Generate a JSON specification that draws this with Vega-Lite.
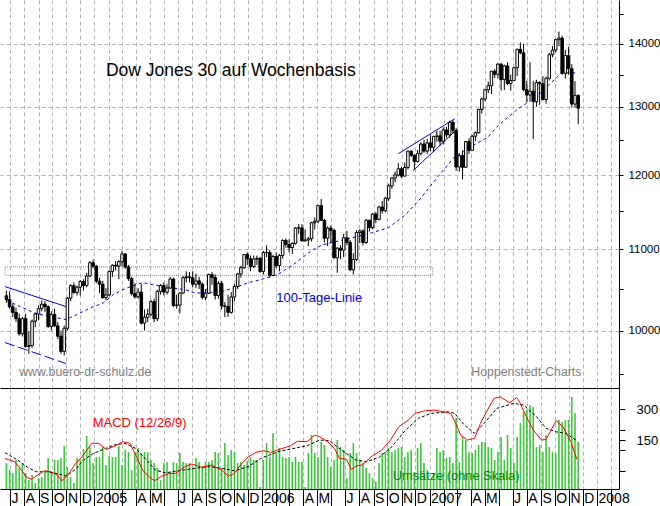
{
  "$schema": "https://vega.github.io/schema/vega-lite/v6.json",
  "padding": 0,
  "spacing": 0,
  "bounds": "flush",
  "config": {"view": {"stroke": null}, "font": "Liberation Sans"},
  "datasets": {
    "weeks": [
      {"date":"2004-06-23","open":10416,"high":10480,"low":10330,"close":10371,"vol":26},
      {"date":"2004-06-30","open":10371,"high":10470,"low":10260,"close":10282,"vol":19},
      {"date":"2004-07-07","open":10282,"high":10320,"low":10160,"close":10214,"vol":16},
      {"date":"2004-07-14","open":10214,"high":10270,"low":10100,"close":10140,"vol":29},
      {"date":"2004-07-21","open":10140,"high":10200,"low":9940,"close":9962,"vol":21},
      {"date":"2004-07-28","open":9962,"high":10160,"low":9930,"close":10140,"vol":26},
      {"date":"2004-08-04","open":10140,"high":10200,"low":9800,"close":9815,"vol":16},
      {"date":"2004-08-11","open":9815,"high":9990,"low":9730,"close":9825,"vol":9},
      {"date":"2004-08-18","open":9825,"high":10130,"low":9800,"close":10110,"vol":14},
      {"date":"2004-08-25","open":10110,"high":10210,"low":10040,"close":10195,"vol":6},
      {"date":"2004-09-01","open":10195,"high":10300,"low":10120,"close":10260,"vol":11},
      {"date":"2004-09-08","open":10260,"high":10360,"low":10230,"close":10314,"vol":12},
      {"date":"2004-09-15","open":10314,"high":10350,"low":10220,"close":10284,"vol":17},
      {"date":"2004-09-22","open":10284,"high":10300,"low":10030,"close":10047,"vol":31},
      {"date":"2004-09-29","open":10047,"high":10230,"low":10000,"close":10192,"vol":17},
      {"date":"2004-10-06","open":10192,"high":10260,"low":10040,"close":10055,"vol":29},
      {"date":"2004-10-13","open":10055,"high":10100,"low":9900,"close":9933,"vol":29},
      {"date":"2004-10-20","open":9933,"high":10000,"low":9730,"close":9758,"vol":31},
      {"date":"2004-10-27","open":9758,"high":10060,"low":9710,"close":10027,"vol":43},
      {"date":"2004-11-03","open":10027,"high":10400,"low":10000,"close":10387,"vol":22},
      {"date":"2004-11-10","open":10387,"high":10560,"low":10350,"close":10540,"vol":12},
      {"date":"2004-11-17","open":10540,"high":10580,"low":10440,"close":10456,"vol":6},
      {"date":"2004-11-24","open":10456,"high":10540,"low":10420,"close":10522,"vol":31},
      {"date":"2004-12-01","open":10522,"high":10610,"low":10420,"close":10592,"vol":29},
      {"date":"2004-12-08","open":10592,"high":10620,"low":10480,"close":10543,"vol":40},
      {"date":"2004-12-15","open":10543,"high":10700,"low":10520,"close":10661,"vol":53},
      {"date":"2004-12-22","open":10661,"high":10850,"low":10650,"close":10828,"vol":42},
      {"date":"2004-12-29","open":10828,"high":10870,"low":10760,"close":10783,"vol":26},
      {"date":"2005-01-05","open":10783,"high":10800,"low":10570,"close":10597,"vol":32},
      {"date":"2005-01-12","open":10597,"high":10640,"low":10450,"close":10558,"vol":32},
      {"date":"2005-01-19","open":10558,"high":10600,"low":10380,"close":10393,"vol":42},
      {"date":"2005-01-26","open":10393,"high":10510,"low":10360,"close":10427,"vol":24},
      {"date":"2005-02-02","open":10427,"high":10730,"low":10410,"close":10716,"vol":33},
      {"date":"2005-02-09","open":10716,"high":10810,"low":10650,"close":10796,"vol":32},
      {"date":"2005-02-16","open":10796,"high":10850,"low":10730,"close":10785,"vol":32},
      {"date":"2005-02-23","open":10785,"high":10860,"low":10620,"close":10841,"vol":43},
      {"date":"2005-03-02","open":10841,"high":10980,"low":10780,"close":10940,"vol":24},
      {"date":"2005-03-09","open":10940,"high":10950,"low":10750,"close":10774,"vol":39},
      {"date":"2005-03-16","open":10774,"high":10800,"low":10600,"close":10629,"vol":37},
      {"date":"2005-03-23","open":10629,"high":10650,"low":10420,"close":10442,"vol":19},
      {"date":"2005-03-30","open":10442,"high":10570,"low":10380,"close":10404,"vol":37},
      {"date":"2005-04-06","open":10404,"high":10510,"low":10380,"close":10461,"vol":41},
      {"date":"2005-04-13","open":10461,"high":10560,"low":10070,"close":10087,"vol":36},
      {"date":"2005-04-20","open":10087,"high":10250,"low":10000,"close":10157,"vol":37},
      {"date":"2005-04-27","open":10157,"high":10260,"low":10100,"close":10193,"vol":37},
      {"date":"2005-05-04","open":10193,"high":10370,"low":10170,"close":10345,"vol":29},
      {"date":"2005-05-11","open":10345,"high":10380,"low":10100,"close":10140,"vol":26},
      {"date":"2005-05-18","open":10140,"high":10490,"low":10110,"close":10471,"vol":21},
      {"date":"2005-05-25","open":10471,"high":10560,"low":10430,"close":10542,"vol":9},
      {"date":"2005-06-01","open":10542,"high":10580,"low":10420,"close":10460,"vol":26},
      {"date":"2005-06-08","open":10460,"high":10560,"low":10430,"close":10512,"vol":27},
      {"date":"2005-06-15","open":10512,"high":10650,"low":10500,"close":10623,"vol":17},
      {"date":"2005-06-22","open":10623,"high":10640,"low":10280,"close":10297,"vol":27},
      {"date":"2005-06-29","open":10297,"high":10430,"low":10260,"close":10303,"vol":26},
      {"date":"2005-07-06","open":10303,"high":10460,"low":10200,"close":10449,"vol":36},
      {"date":"2005-07-13","open":10449,"high":10660,"low":10440,"close":10640,"vol":27},
      {"date":"2005-07-20","open":10640,"high":10720,"low":10580,"close":10651,"vol":26},
      {"date":"2005-07-27","open":10651,"high":10710,"low":10580,"close":10640,"vol":26},
      {"date":"2005-08-03","open":10640,"high":10720,"low":10520,"close":10558,"vol":22},
      {"date":"2005-08-10","open":10558,"high":10690,"low":10510,"close":10600,"vol":31},
      {"date":"2005-08-17","open":10600,"high":10650,"low":10500,"close":10559,"vol":27},
      {"date":"2005-08-24","open":10559,"high":10580,"low":10370,"close":10397,"vol":22},
      {"date":"2005-08-31","open":10397,"high":10500,"low":10360,"close":10447,"vol":27},
      {"date":"2005-09-07","open":10447,"high":10690,"low":10440,"close":10678,"vol":27},
      {"date":"2005-09-14","open":10678,"high":10710,"low":10550,"close":10641,"vol":29},
      {"date":"2005-09-21","open":10641,"high":10680,"low":10370,"close":10419,"vol":37},
      {"date":"2005-09-28","open":10419,"high":10600,"low":10380,"close":10568,"vol":36},
      {"date":"2005-10-05","open":10568,"high":10600,"low":10250,"close":10292,"vol":21},
      {"date":"2005-10-12","open":10292,"high":10340,"low":10160,"close":10287,"vol":46},
      {"date":"2005-10-19","open":10287,"high":10430,"low":10160,"close":10215,"vol":34},
      {"date":"2005-10-26","open":10215,"high":10460,"low":10200,"close":10402,"vol":39},
      {"date":"2005-11-02","open":10402,"high":10560,"low":10350,"close":10530,"vol":37},
      {"date":"2005-11-09","open":10530,"high":10700,"low":10500,"close":10686,"vol":26},
      {"date":"2005-11-16","open":10686,"high":10790,"low":10640,"close":10766,"vol":27},
      {"date":"2005-11-23","open":10766,"high":10940,"low":10750,"close":10932,"vol":24},
      {"date":"2005-11-30","open":10932,"high":10960,"low":10800,"close":10878,"vol":28},
      {"date":"2005-12-07","open":10878,"high":10920,"low":10720,"close":10779,"vol":32},
      {"date":"2005-12-14","open":10779,"high":10920,"low":10760,"close":10876,"vol":29},
      {"date":"2005-12-21","open":10876,"high":10920,"low":10800,"close":10884,"vol":29},
      {"date":"2005-12-28","open":10884,"high":10900,"low":10700,"close":10718,"vol":2},
      {"date":"2006-01-04","open":10718,"high":10980,"low":10680,"close":10959,"vol":29},
      {"date":"2006-01-11","open":10959,"high":11050,"low":10900,"close":10960,"vol":46},
      {"date":"2006-01-18","open":10960,"high":10990,"low":10640,"close":10667,"vol":32},
      {"date":"2006-01-25","open":10667,"high":10930,"low":10660,"close":10907,"vol":56},
      {"date":"2006-02-01","open":10907,"high":10960,"low":10760,"close":10793,"vol":37},
      {"date":"2006-02-08","open":10793,"high":10940,"low":10720,"close":10920,"vol":41},
      {"date":"2006-02-15","open":10920,"high":11130,"low":10880,"close":11115,"vol":32},
      {"date":"2006-02-22","open":11115,"high":11140,"low":11020,"close":11062,"vol":31},
      {"date":"2006-03-01","open":11062,"high":11130,"low":10960,"close":11022,"vol":32},
      {"date":"2006-03-08","open":11022,"high":11090,"low":10940,"close":11076,"vol":27},
      {"date":"2006-03-15","open":11076,"high":11290,"low":11060,"close":11279,"vol":32},
      {"date":"2006-03-22","open":11279,"high":11330,"low":11200,"close":11280,"vol":27},
      {"date":"2006-03-29","open":11280,"high":11330,"low":11100,"close":11109,"vol":27},
      {"date":"2006-04-05","open":11109,"high":11260,"low":11100,"close":11120,"vol":2},
      {"date":"2006-04-12","open":11120,"high":11160,"low":11040,"close":11137,"vol":36},
      {"date":"2006-04-19","open":11137,"high":11360,"low":11100,"close":11347,"vol":54},
      {"date":"2006-04-26","open":11347,"high":11420,"low":11260,"close":11367,"vol":36},
      {"date":"2006-05-03","open":11367,"high":11590,"low":11340,"close":11578,"vol":32},
      {"date":"2006-05-10","open":11578,"high":11670,"low":11370,"close":11380,"vol":47},
      {"date":"2006-05-17","open":11380,"high":11400,"low":11090,"close":11144,"vol":44},
      {"date":"2006-05-24","open":11144,"high":11300,"low":11040,"close":11278,"vol":32},
      {"date":"2006-05-31","open":11278,"high":11310,"low":11080,"close":11247,"vol":22},
      {"date":"2006-06-07","open":11247,"high":11270,"low":10880,"close":10891,"vol":29},
      {"date":"2006-06-14","open":10891,"high":11030,"low":10700,"close":11014,"vol":49},
      {"date":"2006-06-21","open":11014,"high":11050,"low":10870,"close":10989,"vol":42},
      {"date":"2006-06-28","open":10989,"high":11200,"low":10900,"close":11150,"vol":39},
      {"date":"2006-07-05","open":11150,"high":11240,"low":11050,"close":11091,"vol":11},
      {"date":"2006-07-12","open":11091,"high":11120,"low":10720,"close":10739,"vol":36},
      {"date":"2006-07-19","open":10739,"high":10950,"low":10680,"close":10868,"vol":46},
      {"date":"2006-07-26","open":10868,"high":11250,"low":10850,"close":11219,"vol":36},
      {"date":"2006-08-02","open":11219,"high":11260,"low":11080,"close":11240,"vol":29},
      {"date":"2006-08-09","open":11240,"high":11260,"low":11050,"close":11088,"vol":26},
      {"date":"2006-08-16","open":11088,"high":11400,"low":11070,"close":11381,"vol":21},
      {"date":"2006-08-23","open":11381,"high":11390,"low":11230,"close":11284,"vol":16},
      {"date":"2006-08-30","open":11284,"high":11480,"low":11260,"close":11464,"vol":11},
      {"date":"2006-09-06","open":11464,"high":11490,"low":11340,"close":11392,"vol":7},
      {"date":"2006-09-13","open":11392,"high":11580,"low":11380,"close":11560,"vol":26},
      {"date":"2006-09-20","open":11560,"high":11640,"low":11470,"close":11508,"vol":36},
      {"date":"2006-09-27","open":11508,"high":11700,"low":11490,"close":11679,"vol":37},
      {"date":"2006-10-04","open":11679,"high":11880,"low":11640,"close":11850,"vol":41},
      {"date":"2006-10-11","open":11850,"high":11970,"low":11810,"close":11960,"vol":37},
      {"date":"2006-10-18","open":11960,"high":12050,"low":11900,"close":12002,"vol":39},
      {"date":"2006-10-25","open":12002,"high":12170,"low":11980,"close":12090,"vol":41},
      {"date":"2006-11-01","open":12090,"high":12120,"low":11960,"close":11986,"vol":42},
      {"date":"2006-11-08","open":11986,"high":12180,"low":11980,"close":12108,"vol":32},
      {"date":"2006-11-15","open":12108,"high":12350,"low":12080,"close":12342,"vol":37},
      {"date":"2006-11-22","open":12342,"high":12360,"low":12260,"close":12280,"vol":39},
      {"date":"2006-11-29","open":12280,"high":12300,"low":12080,"close":12194,"vol":17},
      {"date":"2006-12-06","open":12194,"high":12360,"low":12180,"close":12307,"vol":41},
      {"date":"2006-12-13","open":12307,"high":12470,"low":12280,"close":12445,"vol":46},
      {"date":"2006-12-20","open":12445,"high":12510,"low":12320,"close":12343,"vol":26},
      {"date":"2006-12-27","open":12343,"high":12520,"low":12300,"close":12463,"vol":19},
      {"date":"2007-01-03","open":12463,"high":12580,"low":12340,"close":12398,"vol":9},
      {"date":"2007-01-10","open":12398,"high":12570,"low":12330,"close":12556,"vol":16},
      {"date":"2007-01-17","open":12556,"high":12640,"low":12480,"close":12566,"vol":41},
      {"date":"2007-01-24","open":12566,"high":12640,"low":12420,"close":12487,"vol":37},
      {"date":"2007-01-31","open":12487,"high":12690,"low":12440,"close":12653,"vol":39},
      {"date":"2007-02-07","open":12653,"high":12700,"low":12540,"close":12580,"vol":31},
      {"date":"2007-02-14","open":12580,"high":12790,"low":12540,"close":12768,"vol":32},
      {"date":"2007-02-21","open":12768,"high":12800,"low":12600,"close":12647,"vol":26},
      {"date":"2007-02-28","open":12647,"high":12680,"low":12060,"close":12114,"vol":71},
      {"date":"2007-03-07","open":12114,"high":12300,"low":12050,"close":12277,"vol":27},
      {"date":"2007-03-14","open":12277,"high":12350,"low":11940,"close":12111,"vol":52},
      {"date":"2007-03-21","open":12111,"high":12490,"low":12100,"close":12481,"vol":49},
      {"date":"2007-03-28","open":12481,"high":12530,"low":12300,"close":12354,"vol":37},
      {"date":"2007-04-04","open":12354,"high":12580,"low":12350,"close":12560,"vol":36},
      {"date":"2007-04-11","open":12560,"high":12630,"low":12490,"close":12612,"vol":39},
      {"date":"2007-04-18","open":12612,"high":12970,"low":12600,"close":12962,"vol":44},
      {"date":"2007-04-25","open":12962,"high":13140,"low":12900,"close":13121,"vol":47},
      {"date":"2007-05-02","open":13121,"high":13280,"low":13090,"close":13265,"vol":47},
      {"date":"2007-05-09","open":13265,"high":13390,"low":13210,"close":13327,"vol":42},
      {"date":"2007-05-16","open":13327,"high":13560,"low":13200,"close":13556,"vol":41},
      {"date":"2007-05-23","open":13556,"high":13590,"low":13450,"close":13507,"vol":29},
      {"date":"2007-05-30","open":13507,"high":13690,"low":13440,"close":13668,"vol":37},
      {"date":"2007-06-06","open":13668,"high":13690,"low":13250,"close":13424,"vol":52},
      {"date":"2007-06-13","open":13424,"high":13660,"low":13260,"close":13640,"vol":29},
      {"date":"2007-06-20","open":13640,"high":13700,"low":13340,"close":13361,"vol":54},
      {"date":"2007-06-27","open":13361,"high":13500,"low":13250,"close":13409,"vol":41},
      {"date":"2007-07-04","open":13409,"high":13620,"low":13400,"close":13612,"vol":26},
      {"date":"2007-07-11","open":13612,"high":13920,"low":13480,"close":13908,"vol":52},
      {"date":"2007-07-18","open":13908,"high":14020,"low":13830,"close":13851,"vol":66},
      {"date":"2007-07-25","open":13851,"high":14000,"low":13240,"close":13266,"vol":77},
      {"date":"2007-08-01","open":13266,"high":13400,"low":13070,"close":13182,"vol":79},
      {"date":"2007-08-08","open":13182,"high":13700,"low":13100,"close":13240,"vol":84},
      {"date":"2007-08-15","open":13240,"high":13400,"low":12520,"close":13079,"vol":82},
      {"date":"2007-08-22","open":13079,"high":13420,"low":13000,"close":13379,"vol":42},
      {"date":"2007-08-29","open":13379,"high":13400,"low":13030,"close":13358,"vol":44},
      {"date":"2007-09-05","open":13358,"high":13480,"low":13100,"close":13113,"vol":37},
      {"date":"2007-09-12","open":13113,"high":13470,"low":13050,"close":13443,"vol":54},
      {"date":"2007-09-19","open":13443,"high":13850,"low":13410,"close":13821,"vol":42},
      {"date":"2007-09-26","open":13821,"high":13960,"low":13780,"close":13896,"vol":37},
      {"date":"2007-10-03","open":13896,"high":14080,"low":13860,"close":14067,"vol":36},
      {"date":"2007-10-10","open":14067,"high":14200,"low":13960,"close":14093,"vol":69},
      {"date":"2007-10-17","open":14093,"high":14130,"low":13500,"close":13522,"vol":67},
      {"date":"2007-10-24","open":13522,"high":13900,"low":13440,"close":13807,"vol":69},
      {"date":"2007-10-31","open":13807,"high":13950,"low":13500,"close":13596,"vol":69},
      {"date":"2007-11-07","open":13596,"high":13670,"low":12990,"close":13043,"vol":92},
      {"date":"2007-11-14","open":13043,"high":13400,"low":12990,"close":13177,"vol":76},
      {"date":"2007-11-21","open":13177,"high":13190,"low":12740,"close":12981,"vol":47}
    ],
    "ma": [
      {"date":"2004-06-24","ma":10357},{"date":"2004-08-23","ma":10209},{"date":"2004-09-20","ma":10169},
      {"date":"2004-10-12","ma":10149},{"date":"2004-10-31","ma":10130},{"date":"2004-11-23","ma":10188},
      {"date":"2004-12-23","ma":10269},{"date":"2005-01-20","ma":10329},{"date":"2005-02-11","ma":10430},
      {"date":"2005-03-04","ma":10492},{"date":"2005-03-26","ma":10541},{"date":"2005-04-16","ma":10578},
      {"date":"2005-05-08","ma":10553},{"date":"2005-05-29","ma":10532},{"date":"2005-06-19","ma":10513},
      {"date":"2005-07-17","ma":10492},{"date":"2005-08-08","ma":10450},{"date":"2005-09-07","ma":10450},
      {"date":"2005-10-05","ma":10470},{"date":"2005-11-02","ma":10513},{"date":"2005-12-02","ma":10578},
      {"date":"2005-12-29","ma":10615},{"date":"2006-02-04","ma":10678},{"date":"2006-03-10","ma":10804},
      {"date":"2006-04-22","ma":10996},{"date":"2006-05-14","ma":11059},{"date":"2006-07-25","ma":11163},
      {"date":"2006-08-29","ma":11216},{"date":"2006-10-04","ma":11283},{"date":"2006-11-10","ma":11457},
      {"date":"2006-12-14","ma":11687},{"date":"2007-01-19","ma":11978},{"date":"2007-02-25","ma":12263},
      {"date":"2007-03-31","ma":12406},{"date":"2007-05-07","ma":12538},{"date":"2007-05-28","ma":12700},
      {"date":"2007-07-10","ma":12956},{"date":"2007-08-22","ma":13156},{"date":"2007-10-04","ma":13450},
      {"date":"2007-10-14","ma":13530},{"date":"2007-11-16","ma":13530}
    ],
    "macd": [
      {"date":"2004-06-20","macd":60},{"date":"2004-07-11","macd":44},{"date":"2004-07-26","macd":3},
      {"date":"2004-08-06","macd":-32},{"date":"2004-08-17","macd":-42},{"date":"2004-08-30","macd":-21},
      {"date":"2004-09-14","macd":0},{"date":"2004-09-29","macd":-5},{"date":"2004-10-12","macd":-21},
      {"date":"2004-10-22","macd":-49},{"date":"2004-11-06","macd":-16},{"date":"2004-11-21","macd":36},
      {"date":"2004-12-08","macd":77},{"date":"2004-12-26","macd":134},{"date":"2005-01-10","macd":134},
      {"date":"2005-01-27","macd":104},{"date":"2005-02-15","macd":121},{"date":"2005-03-04","macd":142},
      {"date":"2005-03-19","macd":134},{"date":"2005-04-01","macd":77},{"date":"2005-04-16","macd":3},
      {"date":"2005-05-01","macd":-32},{"date":"2005-05-12","macd":-49},{"date":"2005-05-25","macd":-29},
      {"date":"2005-06-13","macd":-13},{"date":"2005-06-26","macd":-13},{"date":"2005-07-15","macd":17},
      {"date":"2005-08-01","macd":33},{"date":"2005-08-23","macd":17},{"date":"2005-09-13","macd":28},
      {"date":"2005-10-05","macd":3},{"date":"2005-10-20","macd":-26},{"date":"2005-11-02","macd":-13},
      {"date":"2005-11-17","macd":33},{"date":"2005-12-02","macd":68},{"date":"2005-12-19","macd":90},
      {"date":"2006-01-05","macd":98},{"date":"2006-01-20","macd":90},{"date":"2006-02-10","macd":106},
      {"date":"2006-03-04","macd":122},{"date":"2006-03-19","macd":144},{"date":"2006-04-09","macd":142},
      {"date":"2006-04-26","macd":174},{"date":"2006-05-07","macd":166},{"date":"2006-05-24","macd":142},
      {"date":"2006-06-08","macd":109},{"date":"2006-06-19","macd":60},{"date":"2006-07-04","macd":56},
      {"date":"2006-07-15","macd":7},{"date":"2006-07-25","macd":23},{"date":"2006-08-07","macd":28},
      {"date":"2006-08-29","macd":72},{"date":"2006-09-19","macd":101},{"date":"2006-10-08","macd":150},
      {"date":"2006-10-26","macd":215},{"date":"2006-11-16","macd":248},{"date":"2006-12-01","macd":280},
      {"date":"2006-12-23","macd":293},{"date":"2007-01-13","macd":296},{"date":"2007-01-30","macd":288},
      {"date":"2007-02-16","macd":280},{"date":"2007-02-27","macd":231},{"date":"2007-03-10","macd":174},
      {"date":"2007-03-25","macd":150},{"date":"2007-04-09","macd":158},{"date":"2007-04-22","macd":231},
      {"date":"2007-05-07","macd":296},{"date":"2007-05-22","macd":354},{"date":"2007-06-04","macd":361},
      {"date":"2007-06-25","macd":332},{"date":"2007-07-10","macd":358},{"date":"2007-07-16","macd":337},
      {"date":"2007-07-31","macd":264},{"date":"2007-08-15","macd":199},{"date":"2007-09-02","macd":150},
      {"date":"2007-09-12","macd":153},{"date":"2007-10-04","macd":244},{"date":"2007-10-19","macd":215},
      {"date":"2007-11-05","macd":142},{"date":"2007-11-18","macd":56}
    ],
    "signal": [
      {"date":"2004-06-20","signal":88},{"date":"2004-07-18","signal":52},{"date":"2004-08-08","signal":17},
      {"date":"2004-08-27","signal":-5},{"date":"2004-09-20","signal":-5},{"date":"2004-10-16","signal":-16},
      {"date":"2004-10-31","signal":-26},{"date":"2004-11-21","signal":7},{"date":"2004-12-08","signal":52},
      {"date":"2004-12-30","signal":85},{"date":"2005-01-20","signal":104},{"date":"2005-02-11","signal":125},
      {"date":"2005-03-08","signal":134},{"date":"2005-04-01","signal":109},{"date":"2005-04-23","signal":56},
      {"date":"2005-05-14","signal":3},{"date":"2005-06-04","signal":-10},{"date":"2005-07-04","signal":0},
      {"date":"2005-08-08","signal":12},{"date":"2005-09-07","signal":20},{"date":"2005-10-05","signal":12},
      {"date":"2005-11-02","signal":0},{"date":"2005-12-02","signal":20},{"date":"2005-12-29","signal":60},
      {"date":"2006-02-04","signal":93},{"date":"2006-03-04","signal":106},{"date":"2006-04-09","signal":122},
      {"date":"2006-05-07","signal":150},{"date":"2006-05-29","signal":146},{"date":"2006-06-13","signal":117},
      {"date":"2006-07-04","signal":85},{"date":"2006-07-25","signal":52},{"date":"2006-08-16","signal":44},
      {"date":"2006-09-13","signal":65},{"date":"2006-10-11","signal":117},{"date":"2006-11-10","signal":199},
      {"date":"2006-12-08","signal":256},{"date":"2007-01-04","signal":280},{"date":"2007-02-10","signal":288},
      {"date":"2007-02-25","signal":280},{"date":"2007-03-18","signal":223},{"date":"2007-04-09","signal":183},
      {"date":"2007-04-30","signal":231},{"date":"2007-05-28","signal":305},{"date":"2007-07-04","signal":329},
      {"date":"2007-07-25","signal":321},{"date":"2007-08-22","signal":264},{"date":"2007-09-12","signal":207},
      {"date":"2007-10-04","signal":190},{"date":"2007-10-25","signal":183},{"date":"2007-11-16","signal":150}
    ],
    "band": [{"date":"2004-06-20","date2":"2007-01-08","lo":10669,"hi":10775}],
    "channelSolid": [
      {"date":"2004-06-20","date2":"2004-10-31","v1":10529,"v2":10285},
      {"date":"2006-10-25","date2":"2007-02-25","v1":12305,"v2":12821},
      {"date":"2006-11-26","date2":"2007-03-01","v1":12063,"v2":12657}
    ],
    "channelDashed": [
      {"date":"2004-06-20","date2":"2004-10-31","v1":9860,"v2":9620}
    ],
    "titleText": [{"date":"2005-01-26","value":13484,"text":"Dow Jones 30 auf Wochenbasis"}],
    "maText": [{"date":"2006-02-01","value":10346,"text":"100-Tage-Linie"}],
    "leftNote": [{"date":"2004-07-21","value":9475,"text":"www.buero-dr-schulz.de"}],
    "rightNote": [{"date":"2007-11-28","value":9475,"text":"Hoppenstedt-Charts"}],
    "macdText": [{"date":"2004-12-28","macd":215,"text":"MACD (12/26/9)"}],
    "volText": [{"date":"2006-10-13","macd":-45,"text":"Umsätze (ohne Skala)"}]
  },
  "vconcat": [
    {
      "width": 619,
      "height": 388,
      "encoding": {
        "x": {
          "field": "date", "type": "temporal",
          "scale": {"type": "utc", "domain": [{"year":2004,"month":6,"date":20,"utc":true},{"year":2008,"month":2,"date":7,"utc":true}]},
          "axis": {"title": null, "labels": false, "ticks": false, "domain": true, "domainColor": "#000", "grid": true, "gridColor": "#b4b4b4", "gridDash": [4,3], "tickCount": {"interval": "month", "step": 1}}
        }
      },
      "layer": [
        {
          "data": {"name": "band"},
          "mark": {"type": "rect", "fillOpacity": 0, "stroke": "#8c8c8c", "strokeWidth": 1, "strokeDash": [1,1]},
          "encoding": {
            "x2": {"field": "date2"},
            "y": {"field": "lo", "type": "quantitative", "scale": {"type": "log", "domain": [9348,14737], "nice": false}, "axis": null},
            "y2": {"field": "hi"}
          }
        },
        {
          "data": {"name": "channelSolid"},
          "mark": {"type": "rule", "color": "#0000ff", "strokeWidth": 1},
          "encoding": {
            "x2": {"field": "date2"},
            "y": {"field": "v1", "type": "quantitative", "scale": {"type": "log", "domain": [9348,14737], "nice": false}, "axis": null},
            "y2": {"field": "v2"}
          }
        },
        {
          "data": {"name": "channelDashed"},
          "mark": {"type": "rule", "color": "#0000ff", "strokeWidth": 1, "strokeDash": [10,4]},
          "encoding": {
            "x2": {"field": "date2"},
            "y": {"field": "v1", "type": "quantitative", "scale": {"type": "log", "domain": [9348,14737], "nice": false}, "axis": null},
            "y2": {"field": "v2"}
          }
        },
        {
          "data": {"name": "ma"},
          "mark": {"type": "line", "color": "#0000ff", "strokeWidth": 1, "strokeDash": [3,3]},
          "encoding": {
            "y": {"field": "ma", "type": "quantitative", "scale": {"type": "log", "domain": [9348,14737], "nice": false}, "axis": null}
          }
        },
        {
          "data": {"name": "weeks"},
          "mark": {"type": "rule", "color": "#000", "strokeWidth": 1},
          "encoding": {
            "y": {
              "field": "low", "type": "quantitative",
              "scale": {"type": "log", "domain": [9348,14737], "nice": false},
              "axis": {
                "orient": "right", "title": null,
                "values": [9500,10500,11500,12500,13500,14500],
                "labels": false, "grid": false, "domain": false,
                "tickColor": "#000", "tickSize": 4
              }
            },
            "y2": {"field": "high"}
          }
        },
        {
          "data": {"name": "weeks"},
          "mark": {"type": "bar", "width": 2.5, "stroke": "#000", "strokeWidth": 1},
          "encoding": {
            "y": {
              "field": "open", "type": "quantitative",
              "scale": {"type": "log", "domain": [9348,14737], "nice": false},
              "axis": {
                "orient": "right", "title": null,
                "values": [10000,11000,12000,13000,14000],
                "format": "d",
                "grid": true, "gridColor": "#b4b4b4", "gridDash": [4,3],
                "domainColor": "#000", "tickColor": "#000", "tickSize": 4,
                "labelPadding": 5, "labelFontSize": 11.5, "labelColor": "#000",
                "labelOverlap": false, "labelFlush": false
              }
            },
            "y2": {"field": "close"},
            "fill": {"condition": {"test": "datum.close < datum.open", "value": "#000"}, "value": "#fff"}
          }
        },
        {
          "data": {"name": "titleText"},
          "mark": {"type": "text", "align": "left", "baseline": "alphabetic", "fontSize": 17.5, "color": "#000"},
          "encoding": {
            "y": {"field": "value", "type": "quantitative", "scale": {"type": "log", "domain": [9348,14737], "nice": false}, "axis": null},
            "text": {"field": "text"}
          }
        },
        {
          "data": {"name": "maText"},
          "mark": {"type": "text", "align": "left", "baseline": "alphabetic", "fontSize": 13, "color": "#0000e0"},
          "encoding": {
            "y": {"field": "value", "type": "quantitative", "scale": {"type": "log", "domain": [9348,14737], "nice": false}, "axis": null},
            "text": {"field": "text"}
          }
        },
        {
          "data": {"name": "leftNote"},
          "mark": {"type": "text", "align": "left", "baseline": "alphabetic", "fontSize": 12.3, "color": "#808080"},
          "encoding": {
            "y": {"field": "value", "type": "quantitative", "scale": {"type": "log", "domain": [9348,14737], "nice": false}, "axis": null},
            "text": {"field": "text"}
          }
        },
        {
          "data": {"name": "rightNote"},
          "mark": {"type": "text", "align": "right", "baseline": "alphabetic", "fontSize": 12.3, "color": "#808080"},
          "encoding": {
            "y": {"field": "value", "type": "quantitative", "scale": {"type": "log", "domain": [9348,14737], "nice": false}, "axis": null},
            "text": {"field": "text"}
          }
        }
      ],
      "resolve": {"axis": {"y": "independent"}}
    },
    {
      "width": 619,
      "height": 101,
      "encoding": {
        "x": {
          "field": "date", "type": "temporal",
          "scale": {"type": "utc", "domain": [{"year":2004,"month":6,"date":20,"utc":true},{"year":2008,"month":2,"date":7,"utc":true}]},
          "axis": {
            "title": null, "orient": "bottom", "tickCount": {"interval": "month", "step": 1},
            "grid": true, "gridColor": "#b4b4b4", "gridDash": [4,3],
            "domainColor": "#000", "tickColor": "#000", "tickSize": 17,
            "labelAlign": "left", "labelBaseline": "top", "labelPadding": -15, "labelOffset": 1,
            "labelFontSize": 14, "labelColor": "#000", "labelOverlap": false, "labelFlush": false, "labelBound": false,
            "labelExpr": "utcmonth(datum.value) == 0 ? '' + utcyear(datum.value) : ((utcmonth(datum.value) == 1 || utcmonth(datum.value) == 2 || utcmonth(datum.value) == 5) ? '' : substring('JFMAMJJASOND', utcmonth(datum.value), utcmonth(datum.value) + 1))"
          }
        }
      },
      "layer": [
        {
          "data": {"name": "weeks"},
          "mark": {"type": "bar", "width": 1.6, "color": "#3cc83c"},
          "encoding": {
            "y": {"field": "vol", "type": "quantitative", "scale": {"domain": [0,101], "nice": false}, "axis": null}
          }
        },
        {
          "data": {"name": "signal"},
          "mark": {"type": "line", "color": "#000", "strokeWidth": 1, "strokeDash": [3,2]},
          "encoding": {
            "y": {"field": "signal", "type": "quantitative", "scale": {"domain": [-89,404], "nice": false, "zero": false}, "axis": null}
          }
        },
        {
          "data": {"name": "macd"},
          "mark": {"type": "line", "color": "#ff0000", "strokeWidth": 1},
          "encoding": {
            "y": {
              "field": "macd", "type": "quantitative",
              "scale": {"domain": [-89,404], "nice": false, "zero": false},
              "axis": {
                "orient": "right", "title": null, "values": [0,100,150,200,300],
                "labelExpr": "(datum.value == 150 || datum.value == 300) ? format(datum.value, 'd') : ''",
                "grid": false, "domainColor": "#000", "tickColor": "#000", "tickSize": 6,
                "labelPadding": 11, "labelFontSize": 13, "labelColor": "#000", "labelOverlap": false
              }
            }
          }
        },
        {
          "data": {"name": "macdText"},
          "mark": {"type": "text", "align": "left", "baseline": "alphabetic", "fontSize": 13, "color": "#ff0000"},
          "encoding": {
            "y": {"field": "macd", "type": "quantitative", "scale": {"domain": [-89,404], "nice": false, "zero": false}, "axis": null},
            "text": {"field": "text"}
          }
        },
        {
          "data": {"name": "volText"},
          "mark": {"type": "text", "align": "left", "baseline": "alphabetic", "fontSize": 12.8, "color": "#0c820c"},
          "encoding": {
            "y": {"field": "macd", "type": "quantitative", "scale": {"domain": [-89,404], "nice": false, "zero": false}, "axis": null},
            "text": {"field": "text"}
          }
        }
      ],
      "resolve": {"scale": {"y": "independent"}}
    }
  ]
}
